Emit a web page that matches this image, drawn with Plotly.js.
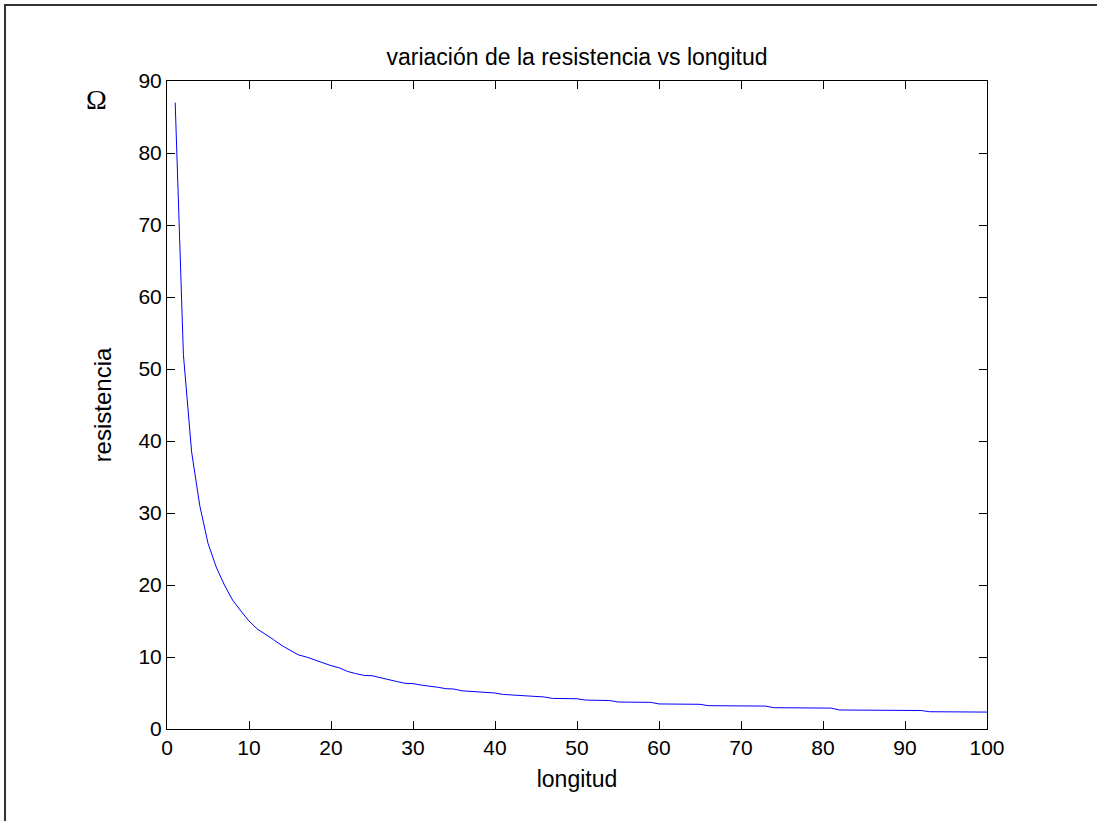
<!DOCTYPE html>
<html>
<head>
<meta charset="utf-8">
<script src="https://cdn.plot.ly/plotly-3.0.1.min.js"></script>
<style>
  html, body { margin: 0; padding: 0; background: #ffffff; overflow: hidden; }
  #wrap { position: relative; width: 1097px; height: 821px; overflow: hidden; }
  #chart { width: 1097px; height: 821px; }
  /* thin frame along the top and left edges of the figure */
  #frame {
    position: absolute; left: 4px; top: 4px; width: 1100px; height: 830px;
    border-top: 2px solid #333333; border-left: 2px solid #333333;
    pointer-events: none;
  }
</style>
</head>
<body>
<div id="wrap">
  <div id="chart"></div>
  <div id="frame"></div>
</div>
<script>
// longitud (1 … 100)
const longitud = [
  1, 2, 3, 4, 5, 6, 7, 8, 9, 10,
  11, 12, 13, 14, 15, 16, 17, 18, 19, 20,
  21, 22, 23, 24, 25, 26, 27, 28, 29, 30,
  31, 32, 33, 34, 35, 36, 37, 38, 39, 40,
  41, 42, 43, 44, 45, 46, 47, 48, 49, 50,
  51, 52, 53, 54, 55, 56, 57, 58, 59, 60,
  61, 62, 63, 64, 65, 66, 67, 68, 69, 70,
  71, 72, 73, 74, 75, 76, 77, 78, 79, 80,
  81, 82, 83, 84, 85, 86, 87, 88, 89, 90,
  91, 92, 93, 94, 95, 96, 97, 98, 99, 100
];

// resistencia (Ω) for each longitud
const resistencia = [
  87.0, 52.0, 38.5, 31.0, 25.8, 22.5, 20.0, 17.9, 16.4, 15.0,
  13.9, 13.2, 12.4, 11.6, 10.9, 10.3, 10.0, 9.6, 9.1, 8.8,
  8.5, 8.0, 7.7, 7.45, 7.4, 7.1, 6.85, 6.6, 6.35, 6.3,
  6.1, 6.0, 5.8, 5.6, 5.55, 5.3, 5.25, 5.2, 5.05, 5.0,
  4.8, 4.75, 4.7, 4.55, 4.5, 4.45, 4.25, 4.24, 4.22, 4.2,
  4.02, 4.0, 3.98, 3.95, 3.75, 3.74, 3.72, 3.71, 3.7, 3.48,
  3.47, 3.46, 3.45, 3.44, 3.43, 3.24, 3.23, 3.22, 3.21, 3.2,
  3.2, 3.19, 3.18, 2.96, 2.95, 2.94, 2.93, 2.92, 2.91, 2.9,
  2.9, 2.64, 2.63, 2.62, 2.62, 2.61, 2.6, 2.6, 2.59, 2.58,
  2.58, 2.57, 2.4, 2.39, 2.38, 2.38, 2.37, 2.36, 2.35, 2.35
];

const xTicks = [0, 10, 20, 30, 40, 50, 60, 70, 80, 90, 100];
const yTicks = [0, 10, 20, 30, 40, 50, 60, 70, 80, 90];

const baseFont = { family: 'Arial, "Liberation Sans", Helvetica, sans-serif', color: '#000000' };

const trace = {
  x: longitud,
  y: resistencia,
  type: 'scatter',
  mode: 'lines',
  line: { color: '#0000ff', width: 1 },
  hoverinfo: 'x+y'
};

const axisCommon = {
  showgrid: false,
  zeroline: false,
  showline: true,
  linecolor: '#000000',
  linewidth: 1,
  mirror: 'allticks',
  ticks: 'inside',
  ticklen: 8,
  tickwidth: 1,
  tickcolor: '#000000',
  tickfont: Object.assign({}, baseFont, { size: 21 }),
  fixedrange: true
};

const layout = {
  width: 1097,
  height: 821,
  paper_bgcolor: '#ffffff',
  plot_bgcolor: '#ffffff',
  showlegend: false,
  margin: { l: 167, r: 110, t: 81, b: 92, pad: 0 },
  title: {
    text: 'variación de la resistencia vs longitud',
    font: Object.assign({}, baseFont, { size: 23 }),
    xref: 'paper', x: 0.5, xanchor: 'center',
    yref: 'container', y: 1 - 57 / 821, yanchor: 'middle'
  },
  xaxis: Object.assign({}, axisCommon, {
    range: [0, 100],
    tickvals: xTicks,
    ticktext: xTicks.map(String),
    title: { text: 'longitud', font: Object.assign({}, baseFont, { size: 23 }), standoff: 12 }
  }),
  yaxis: Object.assign({}, axisCommon, {
    range: [0, 90],
    tickvals: yTicks,
    ticktext: yTicks.map(String),
    title: { text: 'resistencia', font: Object.assign({}, baseFont, { size: 24 }), standoff: 20 }
  }),
  annotations: [{
    text: 'Ω',
    xref: 'paper', yref: 'paper',
    x: (96 - 167) / 820, y: (728.5 - 99) / 648,
    xanchor: 'center', yanchor: 'middle',
    showarrow: false,
    font: { family: '"Liberation Serif", "Times New Roman", serif', size: 28, color: '#000000' }
  }]
};

Plotly.newPlot('chart', [trace], layout, { staticPlot: true, displayModeBar: false });
</script>
</body>
</html>
